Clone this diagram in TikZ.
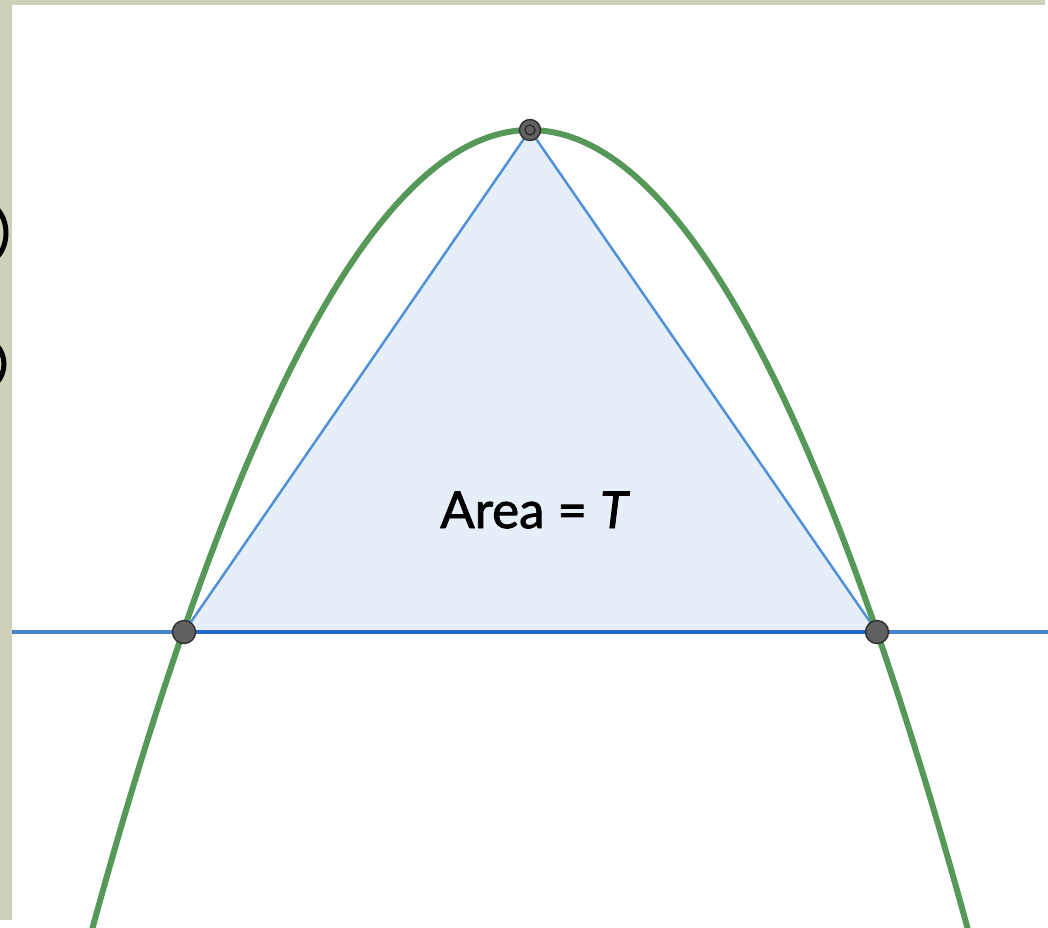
\documentclass[tikz,border=0pt]{standalone}
\usepackage{fontspec}
\setmainfont{Lato}
\newfontfamily\areafont[FakeBold=1.6]{Lato}
\definecolor{strip}{RGB}{205,209,186}
\definecolor{curvegreen}{RGB}{86,152,88}
\definecolor{lineblue}{RGB}{70,130,205}
\definecolor{segblue}{RGB}{35,105,200}
\definecolor{edgeblue}{RGB}{80,145,215}
\definecolor{trifill}{RGB}{230,238,248}
\definecolor{ptfill}{RGB}{97,97,97}
\definecolor{ptdraw}{RGB}{45,45,45}
\tikzset{
  pt/.style={circle, fill=ptfill, draw=ptdraw, line width=1.4pt, minimum size=23pt, inner sep=0pt},
  toppt/.style={circle, fill=ptfill, draw=ptdraw, line width=1.4pt, minimum size=21pt, inner sep=0pt},
  tri/.style={draw=edgeblue, line width=2.5pt, fill=trifill},
  curve/.style={draw=curvegreen, line width=6pt},
  baseline/.style={draw=lineblue, line width=4.5pt},
  seg/.style={draw=segblue, line width=4.5pt},
  paren/.style={draw=black, line width=5pt}
}
\begin{document}
\begin{tikzpicture}[x=1pt,y=-1pt]
\useasboundingbox (0,0) rectangle (1048,927);
\fill[white] (0,0) rectangle (1048,927);
% frame strips
\fill[strip] (0,0) rectangle (1045,5);
\fill[strip] (0,0) rectangle (12,920);
% cut-off parentheses
\begin{scope}
\clip (0,0) rectangle (12,927);
\draw[paren] (-20,233) ellipse [x radius=26, y radius=32];
\draw[paren] (-22,364) ellipse [x radius=26, y radius=27];
\end{scope}
% points positions
\coordinate (Lp) at (184,632);
\coordinate (Rp) at (877,632);
\coordinate (Vp) at (530,130);
\coordinate (Lend) at (12,632);
\coordinate (Rend) at (1048,632);
% triangle
\filldraw[tri] (Lp) -- (Vp) -- (Rp) -- cycle;
% line
\draw[baseline] (Lend) -- (Lp);
\draw[baseline] (Rp) -- (Rend);
\draw[seg] (Lp) -- (Rp);
% parabola
\begin{scope}
\clip (12,5) rectangle (1048,927);
\draw[curve] plot[domain=80:980, samples=120, smooth] (\x, {130 + 502*((\x-530)/347)^2});
\end{scope}
% label
\node[font=\areafont\fontsize{51}{60}\selectfont, text=black] (area) at (535,510) {Area = \textit{T}};
% points
\node[pt] (L) at (Lp) {};
\node[pt] (R) at (Rp) {};
\node[toppt] (V) at (Vp) {};
\draw[ptdraw, line width=1.4pt] (V.center) circle (5pt);
\end{tikzpicture}
\end{document}
